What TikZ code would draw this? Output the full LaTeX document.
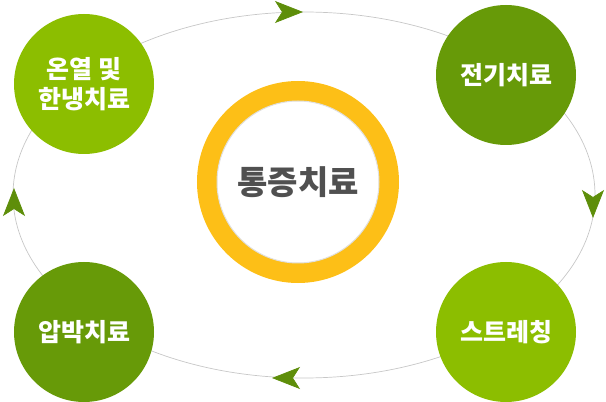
\documentclass[tikz,border=0pt]{standalone}
\usepackage{fontspec}
\setmainfont{Noto Sans CJK KR}
\usetikzlibrary{arrows.meta, positioning}
\definecolor{lightgreen}{HTML}{8CBE00}
\definecolor{darkgreen}{HTML}{679A08}
\definecolor{tipgreen}{HTML}{5E8E0A}
\definecolor{ringyellow}{HTML}{FDBF17}
\definecolor{titlegray}{HTML}{505050}

\begin{document}
\begin{tikzpicture}[x=1pt,y=1pt,
    stage/.style={circle,minimum size=140pt,inner sep=0pt,text=white,align=center,font=\bfseries\fontsize{25}{30}\selectfont},
    cycletip/.style={draw=black!22,line width=0.7pt,-{Stealth[length=28pt,width=22pt,inset=7pt,color=tipgreen]}}
  ]
    \useasboundingbox (0,0) rectangle (606,402);
    \draw[black!22, line width=0.7pt] (304,207) ellipse [x radius=291, y radius=183];

    \coordinate (topA) at (298,390);
    \coordinate (topB) at (303,390);
    \coordinate (rightA) at (593,189);
    \coordinate (rightB) at (593,184);
    \coordinate (bottomA) at (277,24);
    \coordinate (bottomB) at (272,24);
    \coordinate (leftA) at (14,209);
    \coordinate (leftB) at (14,214);
    \draw[cycletip] (topA) -- (topB);
    \draw[cycletip] (rightA) -- (rightB);
    \draw[cycletip] (bottomA) -- (bottomB);
    \draw[cycletip] (leftA) -- (leftB);

    \node[stage, fill=lightgreen] (heat) at (84,318) {온열 및\\한냉치료};
    \node[stage, fill=darkgreen] (electric) at (506,327) {전기치료};
    \node[stage, fill=lightgreen] (stretch) at (506,70) {스트레칭};
    \node[stage, fill=darkgreen] (compress) at (84,70) {압박치료};

    \node[circle, draw=ringyellow, line width=20pt, minimum size=182pt, inner sep=0pt, fill=white] (pain) at (298,220) {};
    \draw[black!12, line width=1pt] (pain.center) circle [radius=81];
    \node[font=\bfseries\fontsize{33}{38}\selectfont, text=titlegray] at (pain.center) {통증치료};
  \end{tikzpicture}
\end{document}
